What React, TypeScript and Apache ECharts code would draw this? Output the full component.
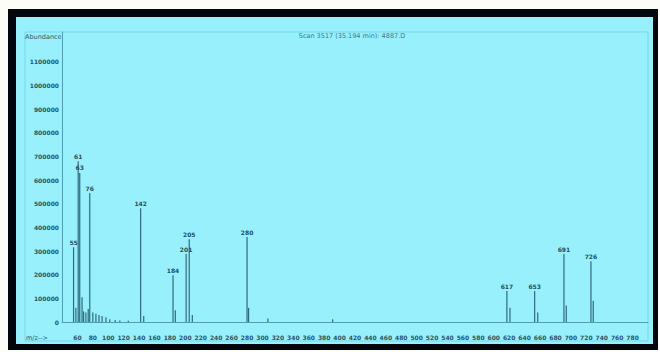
import React, { useEffect, useRef } from "react";
import * as echarts from "echarts";

// m/z values of the peaks and their abundances
const peakMz = [55, 58, 61, 63, 66, 68, 71, 74, 76, 80, 84, 88, 92, 97, 102, 109, 115, 126, 142, 146, 184, 187, 201, 205, 209, 280, 282, 307, 391, 617, 621, 653, 657, 691, 694, 726, 729];
const peakAbundance = [316000, 60000, 680000, 630000, 105000, 45000, 40000, 55000, 545000, 40000, 35000, 30000, 25000, 20000, 12000, 8000, 6000, 5000, 481000, 25000, 198000, 50000, 287000, 350000, 30000, 359000, 60000, 15000, 12000, 131000, 60000, 131000, 40000, 287000, 70000, 257000, 90000];
const labeledMz = [55, 61, 63, 76, 142, 184, 201, 205, 280, 617, 653, 691, 726];

const xMin = 40;
const xMax = 800;
const xStep = 20;
const yMax = 1226000;
const yStep = 100000;
const yLastLabel = 1100000;

const titleText = "Scan 3517 (35.194 min): 4887.D";
const yName = "Abundance";
const xName = "m/z-->";

export default function App() {
  const ref = useRef<HTMLDivElement>(null);
  useEffect(() => {
    if (!ref.current) return;
    const chart = echarts.init(ref.current, undefined, { renderer: "svg" });
    const data = peakMz.map((m, i) => {
      const item: any = { value: [m, peakAbundance[i]] };
      if (labeledMz.includes(m)) {
        item.label = { show: true };
      }
      return item;
    });
    chart.setOption({
      animation: false,
      backgroundColor: "transparent",
      textStyle: { fontFamily: "DejaVu Sans" },
      grid: { left: 62, right: 12, top: 32, bottom: 30 },
      graphic: [
        {
          type: "rect",
          z: -10,
          silent: true,
          shape: { x: 25, y: 32, width: 623, height: 309 },
          style: { fill: "transparent", stroke: "#74d6e6", lineWidth: 1 },
        },
        {
          type: "text",
          x: 25,
          y: 33,
          style: { text: yName, fontSize: 6.5, fill: "#2a5a70", fontFamily: "DejaVu Sans" },
        },
        {
          type: "text",
          x: 352,
          y: 32,
          style: { text: titleText, fontSize: 6.5, fill: "#3f7590", textAlign: "center", fontFamily: "DejaVu Sans" },
        },
        {
          type: "text",
          x: 26,
          y: 334,
          style: { text: xName, fontSize: 6.5, fill: "#2a5a70", fontFamily: "DejaVu Sans" },
        },
      ],
      xAxis: {
        type: "value",
        min: xMin,
        max: xMax,
        interval: xStep,
        axisLine: { show: true, lineStyle: { color: "#4f9fb2", width: 1 } },
        axisTick: { show: false },
        splitLine: { show: false },
        axisLabel: {
          showMinLabel: false,
          showMaxLabel: false,
          fontSize: 6,
          color: "#2a5566",
          margin: 12,
          fontWeight: "bold",
        },
      },
      yAxis: {
        type: "value",
        min: 0,
        max: yMax,
        interval: yStep,
        axisLine: { show: true, lineStyle: { color: "#4f9fb2", width: 1 } },
        axisTick: { show: false },
        splitLine: { show: false },
        axisLabel: {
          fontSize: 6,
          color: "#2a5566",
          margin: 3,
          fontWeight: "bold",
          formatter: (v: number) => (v > yLastLabel ? "" : String(v)),
        },
      },
      series: [
        {
          type: "bar",
          barWidth: 1.2,
          data,
          itemStyle: { color: "#2f6a7c" },
          label: {
            show: false,
            position: "top",
            distance: 2,
            fontSize: 6,
            color: "#1f4e63",
            fontWeight: "bold",
            formatter: (p: any) => String(p.value[0]),
          },
          labelLayout: { hideOverlap: false },
        },
      ],
    });
    return () => chart.dispose();
  }, []);

  return (
    <div style={{ position: "fixed", left: 0, top: 0, width: 660, height: 352, background: "#fdfdf8" }}>
      <div style={{ position: "absolute", left: 8, top: 9, width: 650, height: 341, background: "#04060e" }} />
      <div style={{ position: "absolute", left: 16, top: 17, width: 637, height: 327, background: "#98f0fc" }} />
      <div ref={ref} style={{ position: "absolute", left: 0, top: 0, width: 660, height: 352 }} />
    </div>
  );
}
